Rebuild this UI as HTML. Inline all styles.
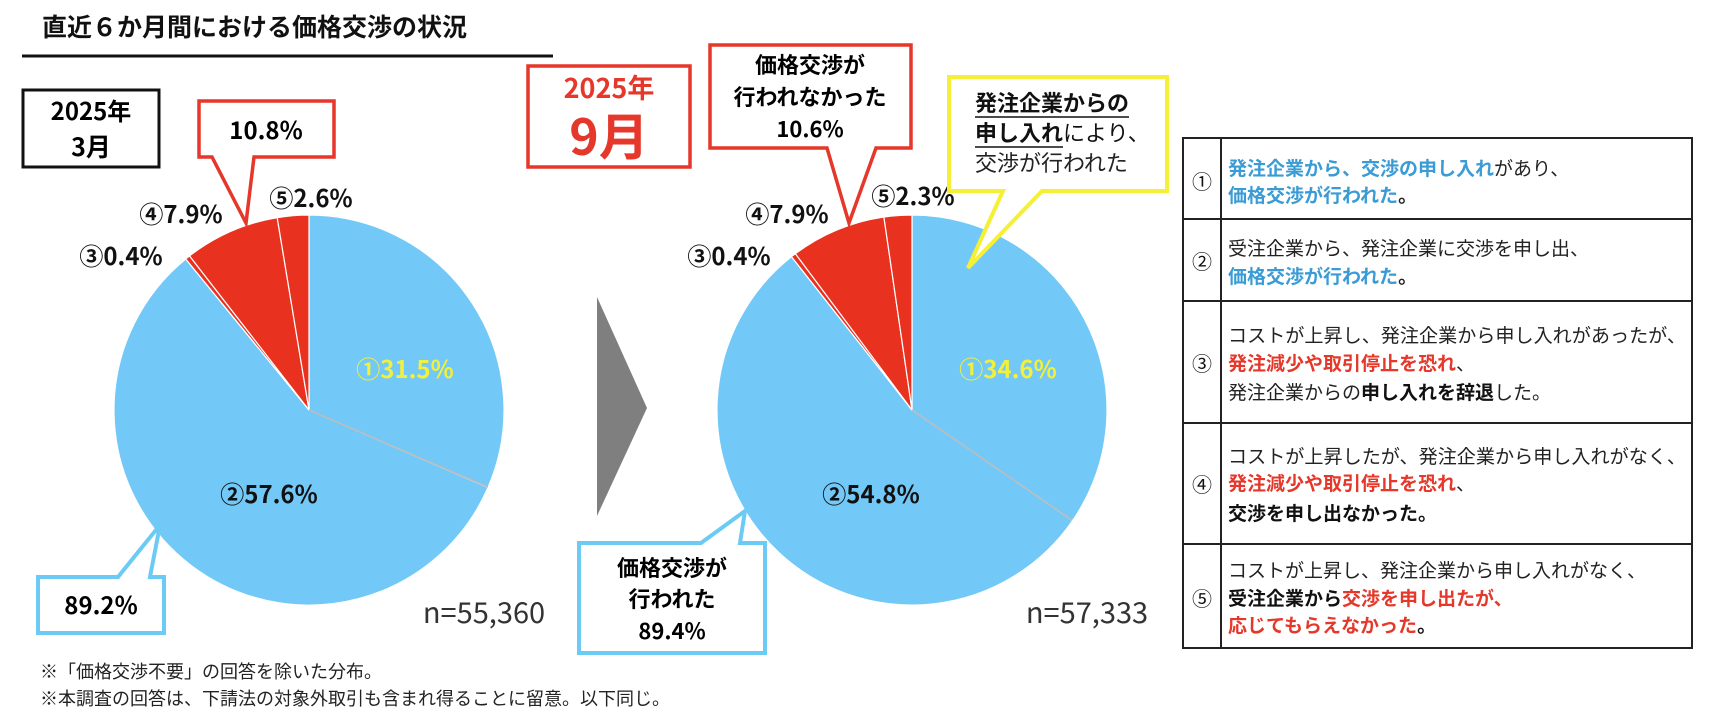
<!DOCTYPE html>
<html><head><meta charset="utf-8"><style>
html,body{margin:0;padding:0;background:#fff;}
svg{display:block;}
text{font-family:"Noto Sans CJK JP","Liberation Sans",sans-serif;}
.b{font-weight:bold;}
.t{font-size:19px;}
</style></head><body>
<svg width="1710" height="712" viewBox="0 0 1710 712" xmlns="http://www.w3.org/2000/svg">
<text x="42" y="36" font-size="25" class="b" fill="#111">直近６か月間における価格交渉の状況</text>
<line x1="22" y1="56" x2="553" y2="56" stroke="#111" stroke-width="3"/>

<rect x="23" y="90" width="136" height="77" fill="#fff" stroke="#111" stroke-width="3"/>
<text x="91" y="120" font-size="24" class="b" text-anchor="middle">2025年</text>
<text x="91" y="156" font-size="25" class="b" text-anchor="middle">3月</text>

<g stroke="#fff" stroke-width="1.2">
<path d="M309,410 L309,215 A195,195 0 0 1 488.0,487.4 Z" fill="#72c8f6"/>
<path d="M309,410 L488.0,487.4 A195,195 0 1 1 185.7,259.0 Z" fill="#72c8f6"/>
<path d="M309,410 L185.7,259.0 A195,195 0 0 1 189.5,255.9 Z" fill="#e8321f"/>
<path d="M309,410 L189.5,255.9 A195,195 0 0 1 277.2,217.6 Z" fill="#e8321f"/>
<path d="M309,410 L277.2,217.6 A195,195 0 0 1 309,215 Z" fill="#e8321f"/>
</g>
<line x1="309" y1="410" x2="488" y2="487" stroke="#bbb" stroke-width="1.5"/>
<text x="405" y="378" font-size="24" class="b" fill="#f2f03a" text-anchor="middle">①31.5%</text>
<text x="269" y="503" font-size="24" class="b" fill="#111" text-anchor="middle">②57.6%</text>
<text x="311" y="207" font-size="24" class="b" fill="#111" text-anchor="middle">⑤2.6%</text>
<text x="181" y="223" font-size="24" class="b" fill="#111" text-anchor="middle">④7.9%</text>
<text x="121" y="265" font-size="24" class="b" fill="#111" text-anchor="middle">③0.4%</text>

<polygon points="199,101 334,101 334,157 254,157 246,223 212,157 199,157" fill="#fff" stroke="#e5372a" stroke-width="3.5"/>
<text x="266" y="139" font-size="24" class="b" text-anchor="middle">10.8%</text>

<polygon points="38,577 118,577 160,525 150,577 164,577 164,633 38,633" fill="#fff" stroke="#6ccbf5" stroke-width="4"/>
<text x="101" y="614" font-size="24" class="b" text-anchor="middle">89.2%</text>

<text x="484" y="623" font-size="29" fill="#333" text-anchor="middle">n=55,360</text>

<polygon points="597,297 647,408 597,516" fill="#7f7f7f"/>

<rect x="528" y="66" width="162" height="101" fill="#fff" stroke="#e5372a" stroke-width="3.5"/>
<text x="609" y="98" font-size="27" class="b" fill="#e5372a" text-anchor="middle">2025年</text>
<text x="609" y="155" font-size="50" class="b" fill="#e5372a" text-anchor="middle">9月</text>

<g stroke="#fff" stroke-width="1.2">
<path d="M912,410 L912,215 A195,195 0 0 1 1072.6,520.6 Z" fill="#72c8f6"/>
<path d="M912,410 L1072.6,520.6 A195,195 0 1 1 791.5,256.7 Z" fill="#72c8f6"/>
<path d="M912,410 L791.5,256.7 A195,195 0 0 1 795.4,253.7 Z" fill="#e8321f"/>
<path d="M912,410 L795.4,253.7 A195,195 0 0 1 883.9,217.0 Z" fill="#e8321f"/>
<path d="M912,410 L883.9,217.0 A195,195 0 0 1 912,215 Z" fill="#e8321f"/>
</g>
<line x1="912" y1="410" x2="1072" y2="520" stroke="#bbb" stroke-width="1.5"/>
<text x="1008" y="378" font-size="24" class="b" fill="#f2f03a" text-anchor="middle">①34.6%</text>
<text x="871" y="503" font-size="24" class="b" fill="#111" text-anchor="middle">②54.8%</text>
<text x="913" y="205" font-size="24" class="b" fill="#111" text-anchor="middle">⑤2.3%</text>
<text x="787" y="223" font-size="24" class="b" fill="#111" text-anchor="middle">④7.9%</text>
<text x="729" y="265" font-size="24" class="b" fill="#111" text-anchor="middle">③0.4%</text>

<polygon points="710,45 911,45 911,148 876,148 849,223 827,148 710,148" fill="#fff" stroke="#e5372a" stroke-width="3.5"/>
<text x="810" y="73" font-size="22" class="b" text-anchor="middle">価格交渉が</text>
<text x="810" y="105" font-size="22" class="b" text-anchor="middle">行われなかった</text>
<text x="810" y="137" font-size="22" class="b" text-anchor="middle">10.6%</text>

<polygon points="949,77 1167,77 1167,191 1042,191 968,268 1003,191 949,191" fill="#fff" stroke="#f5ef35" stroke-width="4"/>
<text x="975" y="111" font-size="22" class="b" fill="#111">発注企業からの</text>
<line x1="975" y1="117" x2="1129" y2="117" stroke="#111" stroke-width="1.5"/>
<text x="975" y="141" font-size="22" fill="#111"><tspan class="b">申し入れ</tspan>により、</text>
<line x1="975" y1="147" x2="1063" y2="147" stroke="#111" stroke-width="1.5"/>
<text x="975" y="171" font-size="22" fill="#222">交渉が行われた</text>

<polygon points="579,543 701,543 745,511 740,543 765,543 765,653 579,653" fill="#fff" stroke="#6ccbf5" stroke-width="4"/>
<text x="672" y="576" font-size="22" class="b" text-anchor="middle">価格交渉が</text>
<text x="672" y="607" font-size="22" class="b" text-anchor="middle">行われた</text>
<text x="672" y="639" font-size="22" class="b" text-anchor="middle">89.4%</text>

<text x="1087" y="623" font-size="29" fill="#333" text-anchor="middle">n=57,333</text>

<text x="40" y="678" font-size="18" fill="#222">※「価格交渉不要」の回答を除いた分布。</text>
<text x="40" y="705" font-size="18" fill="#222">※本調査の回答は、下請法の対象外取引も含まれ得ることに留意。以下同じ。</text>

<g stroke="#222" stroke-width="2" fill="none">
<rect x="1183" y="138" width="509" height="510"/>
<line x1="1221" y1="138" x2="1221" y2="648"/>
<line x1="1183" y1="219" x2="1692" y2="219"/>
<line x1="1183" y1="301" x2="1692" y2="301"/>
<line x1="1183" y1="423" x2="1692" y2="423"/>
<line x1="1183" y1="544" x2="1692" y2="544"/>
</g>
<g font-size="20" fill="#111" text-anchor="middle">
<text x="1202" y="189">①</text>
<text x="1202" y="269">②</text>
<text x="1202" y="371">③</text>
<text x="1202" y="492">④</text>
<text x="1202" y="606">⑤</text>
</g>
<g class="t" fill="#222">
<text x="1228" y="175"><tspan class="b" fill="#3a9bd5">発注企業から、交渉の申し入れ</tspan>があり、</text>
<text x="1228" y="202" class="b" fill="#3a9bd5">価格交渉が行われた<tspan fill="#222">。</tspan></text>
<text x="1228" y="255">受注企業から、発注企業に交渉を申し出、</text>
<text x="1228" y="283" class="b" fill="#3a9bd5">価格交渉が行われた<tspan fill="#222">。</tspan></text>
<text x="1228" y="342" textLength="458" lengthAdjust="spacingAndGlyphs">コストが上昇し、発注企業から申し入れがあったが、</text>
<text x="1228" y="370"><tspan class="b" fill="#e5372a">発注減少や取引停止を恐れ</tspan>、</text>
<text x="1228" y="399">発注企業からの<tspan class="b" fill="#111">申し入れを辞退</tspan>した。</text>
<text x="1228" y="463" textLength="458" lengthAdjust="spacingAndGlyphs">コストが上昇したが、発注企業から申し入れがなく、</text>
<text x="1228" y="490"><tspan class="b" fill="#e5372a">発注減少や取引停止を恐れ</tspan>、</text>
<text x="1228" y="520" class="b" fill="#111">交渉を申し出なかった。</text>
<text x="1228" y="577">コストが上昇し、発注企業から申し入れがなく、</text>
<text x="1228" y="605" class="b" fill="#111">受注企業から<tspan fill="#e5372a">交渉を申し出たが、</tspan></text>
<text x="1228" y="632" class="b" fill="#e5372a">応じてもらえなかった<tspan fill="#111">。</tspan></text>
</g>
</svg>
</body></html>
